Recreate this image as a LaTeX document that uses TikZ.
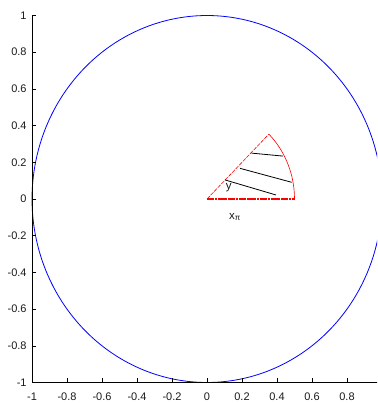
\documentclass[tikz,border=0pt]{standalone}
\usepackage{fontspec}
\setmainfont{Liberation Sans}
\usepackage{tikz}
\definecolor{PlotBlue}{RGB}{0,0,255}
\definecolor{PlotRed}{RGB}{255,0,0}
\definecolor{Ink}{HTML}{1A1A1A}
\tikzset{
  axisline/.style={draw=black,line width=0.6pt},
  tickmark/.style={draw=black,line width=0.5pt},
  ticklabel/.style={font=\fontsize{11}{13}\selectfont,text=Ink,inner sep=0pt},
  unitcircle/.style={draw=PlotBlue,line width=0.8pt},
  sectorarc/.style={draw=PlotRed,line width=0.6pt},
  sectoredge/.style={draw=PlotRed,line width=0.6pt,dash pattern=on 4pt off 1.2pt},
  sectorbase/.style={draw=PlotRed,line width=2.8pt,dash pattern=on 7pt off 0.8pt on 2pt off 0.8pt},
  chord/.style={draw=black,line width=0.8pt},
  varlabel/.style={font=\fontsize{11.5}{13}\selectfont,text=Ink,inner sep=0pt}
}
\begin{document}
\begin{tikzpicture}[x=175pt,y=183.5pt]
\useasboundingbox (-1.1829,-1.1117) rectangle (0.9714,1.0845);
\begin{scope}
\clip (-1.1829,-1.1117) rectangle (0.9714,1.0845);
% unit circle
\draw[unitcircle] plot[domain=0:360,samples=120,smooth] ({cos(\x)},{sin(\x)});
% axes
\coordinate (origin) at (-1,-1);
\coordinate (ytop) at (-1,1);
\coordinate (xend) at (1,-1);
\draw[axisline] (ytop) -- (origin) -- (xend);
\foreach \t in {-1,-0.8,...,1.01}{
  \draw[tickmark] (-1,\t) -- (-0.977,\t);
  \draw[tickmark] (\t,-1) -- (\t,-0.978);
}
\end{scope}
% tick labels
\foreach \t/\lab in {-1/-1,-0.8/-0.8,-0.6/-0.6,-0.4/-0.4,-0.2/-0.2,0/0,0.2/0.2,0.4/0.4,0.6/0.6,0.8/0.8,1/1}{
  \node[ticklabel,anchor=east] (ylab\lab) at (-1.03,\t) {\lab};
}
\foreach \t/\lab in {-1/-1,-0.8/-0.8,-0.6/-0.6,-0.4/-0.4,-0.2/-0.2,0/0,0.2/0.2,0.4/0.4,0.6/0.6,0.8/0.8}{
  \node[ticklabel,anchor=base] (xlab\lab) at (\t,-1.0954) {\lab};
}
% sector
\coordinate (centre) at (0,0);
\coordinate (rim) at (0.5,0);
\coordinate (apex) at (0.3536,0.3536);
\draw[sectorarc] plot[domain=0:45,samples=30,smooth] ({0.5*cos(\x)},{0.5*sin(\x)});
\draw[sectoredge] (centre) -- (apex);
\draw[sectorbase] (centre) -- (rim);
% chords
\coordinate (a1) at (0.255,0.250);
\coordinate (b1) at (0.433,0.234);
\coordinate (a2) at (0.189,0.167);
\coordinate (b2) at (0.484,0.091);
\coordinate (a3) at (0.103,0.104);
\coordinate (b3) at (0.394,0.022);
\draw[chord] (a1) -- (b1);
\draw[chord] (a2) -- (b2);
\draw[chord] (a3) -- (b3);
% labels
\node[varlabel] (ylabel) at (0.124,0.062) {y};
\node[varlabel] (xlabel) at (0.160,-0.098) {x\textsubscript{π}};
\end{tikzpicture}
\end{document}
